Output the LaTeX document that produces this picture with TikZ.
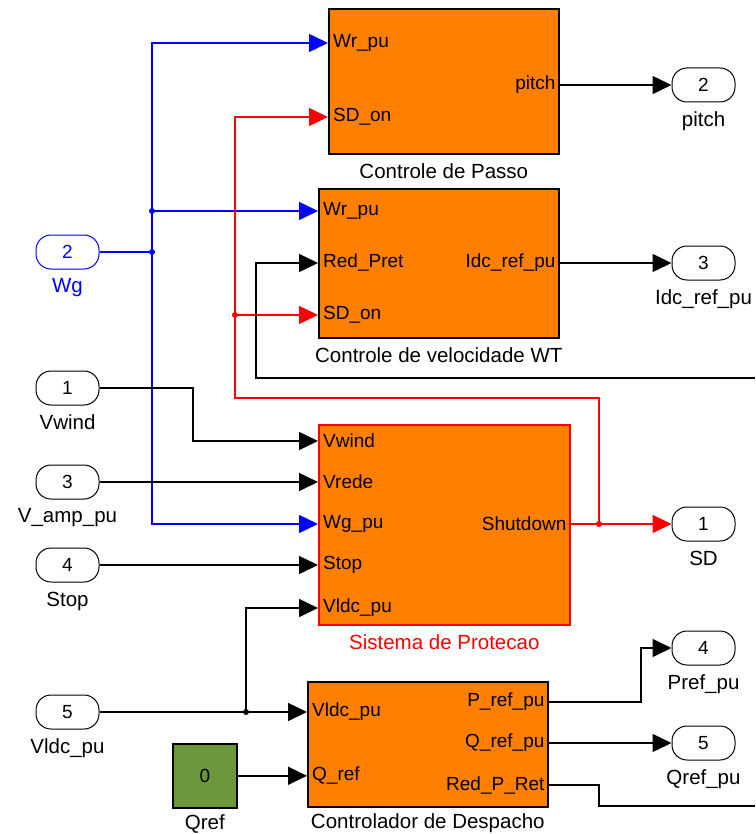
\documentclass[tikz,border=0pt]{standalone}
\usepackage{fontspec}
\setmainfont{Liberation Sans}
\usetikzlibrary{arrows.meta,positioning,calc}

\definecolor{simorange}{RGB}{255,128,0}
\definecolor{simgreen}{RGB}{107,150,60}

\tikzset{
  blk/.style={draw, line width=1.6pt, fill=simorange, anchor=north west, inner sep=0pt},
  inlbl/.style={anchor=west, inner sep=5pt, font=\fontsize{19}{22}\selectfont},
  outlbl/.style={anchor=east, inner sep=4pt, font=\fontsize{19}{22}\selectfont},
  port/.style={draw, line width=1pt, fill=white, rounded corners=15pt, minimum width=63pt, minimum height=34pt, inner sep=0pt, font=\fontsize{19}{22}\selectfont},
  blkcap/.style={inner sep=0pt, font=\fontsize{20.5}{24}\selectfont},
  link/.style={line width=1.5pt},
  wire/.style={link, -{Triangle[length=19pt,width=18pt]}},
  dot/.style={circle, fill, inner sep=0pt, minimum size=6pt},
}

\begin{document}
\begin{tikzpicture}[x=1pt,y=-1pt]
\useasboundingbox (0,0) rectangle (755,834);

% blocks
\node[blk, minimum width=230pt, minimum height=145pt] (passo) at (328,8) {};
\node[blk, minimum width=240pt, minimum height=149pt] (velo) at (318,188) {};
\node[blk, draw=red, minimum width=251pt, minimum height=200pt] (prot) at (318,424) {};
\node[blk, minimum width=240pt, minimum height=125pt] (desp) at (307,681) {};
\node[blk, fill=simgreen, minimum width=64pt, minimum height=64pt, font=\fontsize{19}{22}\selectfont] (qref) at (172,743) {0};

\node[blkcap, below=9pt of passo] (passo-cap) {Controle de Passo};
\node[blkcap, below=9pt of velo] (velo-cap) {Controle de velocidade WT};
\node[blkcap, red, below=9pt of prot] (prot-cap) {Sistema de Protecao};
\node[blkcap, below=6pt of desp] (desp-cap) {Controlador de Despacho};
\node[blkcap, below=6pt of qref] (qref-cap) {Qref};

% port labels
\node[inlbl] (passo-wr) at (passo.west |- 0,43) {Wr\_pu};
\node[inlbl] (passo-sd) at (passo.west |- 0,117) {SD\_on};
\node[outlbl] (passo-pi) at (passo.east |- 0,85) {pitch};

\node[inlbl] (velo-wr) at (velo.west |- 0,211) {Wr\_pu};
\node[inlbl] (velo-red) at (velo.west |- 0,263) {Red\_Pret};
\node[inlbl] (velo-sd) at (velo.west |- 0,315) {SD\_on};
\node[outlbl] (velo-idc) at (velo.east |- 0,263) {Idc\_ref\_pu};

\foreach \nm/\y/\t in {vw/441/Vwind, vr/482/Vrede, wg/524/Wg\_pu, st/565/Stop, vd/608/Vldc\_pu}
  \node[inlbl] (prot-\nm) at (prot.west |- 0,\y) {\t};
\node[outlbl] (prot-sd) at (prot.east |- 0,524) {Shutdown};

\node[inlbl] (desp-vd) at (desp.west |- 0,712) {Vldc\_pu};
\node[inlbl] (desp-q) at (desp.west |- qref.east) {Q\_ref};
\foreach \nm/\y/\t in {p/702/P\_ref\_pu, qo/743/Q\_ref\_pu, ret/785/Red\_P\_Ret}
  \node[outlbl] (desp-\nm) at (desp.east |- 0,\y) {\t};

% inports / outports
\node[port, draw=blue, text=blue] (in2) at (67.5,252) {2};
\node[blkcap, blue, below=9pt of in2] (in2-lbl) {Wg};
\foreach \n/\y/\t in {1/388/Vwind, 3/482/V\_amp\_pu, 4/565/Stop, 5/712/Vldc\_pu} {
  \node[port] (in\n) at (67.5,\y) {\n};
  \node[blkcap, below=9pt of in\n] (in\n-lbl) {\t};
}
\foreach \n/\y/\t in {2/85/pitch, 3/263/Idc\_ref\_pu, 1/524/SD, 4/648/Pref\_pu, 5/743/Qref\_pu} {
  \node[port] (out\n) at (703.5,\y) {\n};
  \node[blkcap, below=9pt of out\n] (out\n-lbl) {\t};
}

% junctions
\node[dot, blue] (j-wg) at (152,252) {};
\node[dot, blue] (j-wr) at (152,211) {};
\node[dot, red] (j-sd) at (599,524) {};
\node[dot, red] (j-sdon) at (235,315) {};
\node[dot] (j-vd) at (246,712) {};

\coordinate (r-turn) at (235,398);
\coordinate (ret-in) at (755,378);
\coordinate (ret-up) at (256,263);
\coordinate (ret-out) at (755,806);
\coordinate (ret-bend) at (599,806);
\coordinate (vw-bend) at (193,441);
\coordinate (p-bend) at (641,648);

% Wg (blue)
\draw[link, blue] (in2.east) -- (j-wg.center);
\draw[wire, blue] (j-wg.center) |- (passo-wr.west);
\draw[wire, blue] (j-wr.center) -- (velo-wr.west);
\draw[wire, blue] (j-wg.center) |- (prot-wg.west);

% shutdown (red)
\draw[wire, red] (prot-sd.east) -- (out1.west);
\draw[wire, red] (j-sd.center) |- (r-turn) |- (passo-sd.west);
\draw[wire, red] (j-sdon.center) -- (velo-sd.west);

% black signals
\draw[wire] (passo-pi.east) -- (out2.west);
\draw[wire] (velo-idc.east) -- (out3.west);
\draw[wire] (ret-in) -| (ret-up) -- (velo-red.west);
\draw[link] (desp-ret.east) -| (ret-bend) -- (ret-out);
\draw[wire] (in1.east) -| (vw-bend) -- (prot-vw.west);
\draw[wire] (in3.east) -- (prot-vr.west);
\draw[wire] (in4.east) -- (prot-st.west);
\draw[wire] (in5.east) -- (desp-vd.west);
\draw[wire] (j-vd.center) |- (prot-vd.west);
\draw[wire] (qref.east) -- (desp-q.west);
\draw[wire] (desp-p.east) -| (p-bend) -- (out4.west);
\draw[wire] (desp-qo.east) -- (out5.west);
\end{tikzpicture}
\end{document}
